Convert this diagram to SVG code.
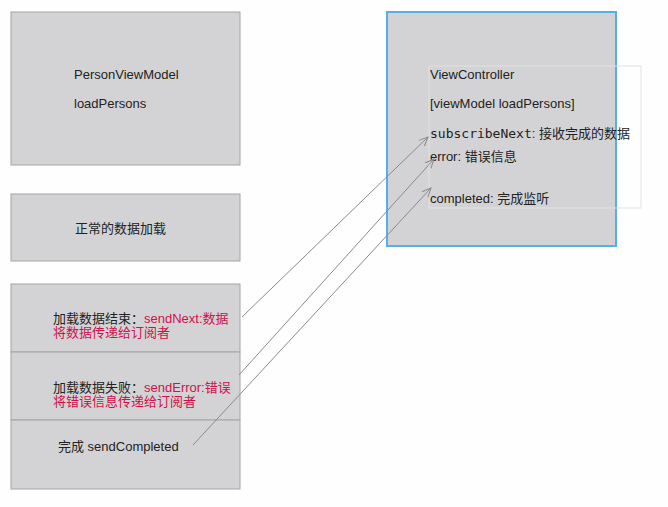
<svg xmlns="http://www.w3.org/2000/svg" width="668" height="507" viewBox="0 0 668 507">
<style>
.box{fill:#d3d3d5;stroke:#a4a4a6;stroke-width:1}
.t{font-family:"Liberation Sans","Noto Sans CJK SC",sans-serif;font-size:13px;fill:#222}
.m{font-family:"DejaVu Sans Mono","Liberation Mono",monospace;font-size:13px}
.red{fill:#d0104c}
.conn{stroke:#8a8a8a;stroke-width:1;fill:none;marker-end:url(#ah)}
</style>
<defs>
<marker id="ah" viewBox="0 0 10 10" refX="9" refY="5" markerWidth="10" markerHeight="10" markerUnits="userSpaceOnUse" orient="auto">
<path d="M0,1 L9,5 L0,9" fill="none" stroke="#8a8a8a" stroke-width="1"/>
</marker>
</defs>
<rect width="668" height="507" fill="#fefefe"/>
<g id="personViewModel">
<rect class="box" x="11" y="12" width="229" height="153"/>
<text class="t" x="74" y="79">PersonViewModel</text>
<text class="t" x="74" y="108">loadPersons</text>
</g>
<g id="normalLoad">
<rect class="box" x="11" y="194" width="229" height="67"/>
<text class="t" x="75" y="233">正常的数据加载</text>
</g>
<g id="loadEnd">
<rect class="box" x="11" y="284" width="229" height="68"/>
<text class="t" x="53" y="323">加载数据结束：<tspan class="red">sendNext:数据</tspan></text>
<text class="t red" x="53" y="337">将数据传递给订阅者</text>
</g>
<g id="loadFail">
<rect class="box" x="11" y="352" width="229" height="68"/>
<text class="t" x="53" y="392">加载数据失败：<tspan class="red">sendError:错误</tspan></text>
<text class="t red" x="53" y="406">将错误信息传递给订阅者</text>
</g>
<g id="completed">
<rect class="box" x="11" y="420" width="229" height="69"/>
<text class="t" x="58" y="451">完成 sendCompleted</text>
</g>
<g id="viewController">
<rect x="387" y="12" width="229" height="234" fill="#d3d3d5" stroke="#5aaee6" stroke-width="2"/>
<rect x="429" y="66" width="212" height="142" fill="none" stroke="#e2e2e2" stroke-width="1"/>
<text class="t" x="430" y="79">ViewController</text>
<text class="t" x="430" y="108">[viewModel loadPersons]</text>
<text class="t" x="430" y="138"><tspan class="m">subscribeNext</tspan>: 接收完成的数据</text>
<text class="t" x="430" y="161">error: 错误信息</text>
<text class="t" x="430" y="203">completed: 完成监听</text>
</g>
<g id="connectors">
<line class="conn" x1="242" y1="317" x2="428" y2="137"/>
<line class="conn" x1="239" y1="375" x2="434" y2="159"/>
<line class="conn" x1="193" y1="445" x2="431" y2="188"/>
</g>
</svg>
